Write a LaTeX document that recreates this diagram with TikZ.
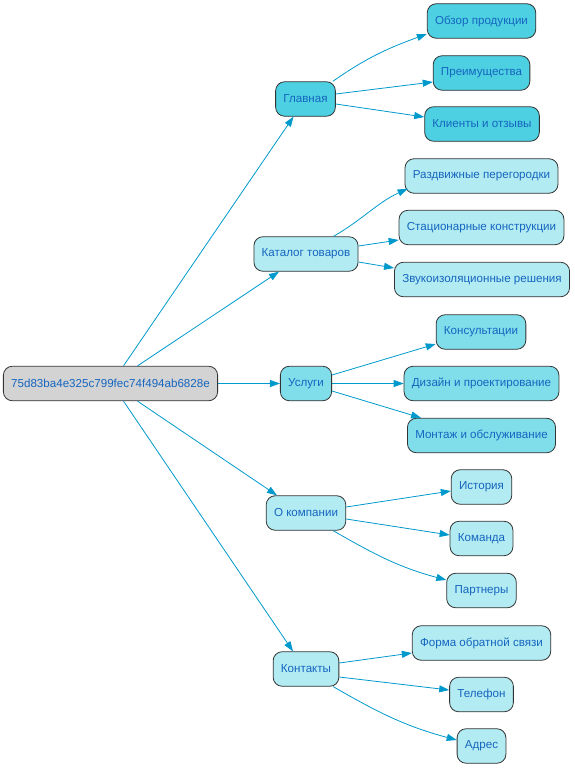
\documentclass[tikz,border=0pt]{standalone}
\usepackage{fontspec}
\setmainfont{Liberation Sans}
\usetikzlibrary{arrows.meta}
\definecolor{edgec}{HTML}{0099CC}
\definecolor{txtc}{HTML}{1565C0}
\definecolor{rootc}{HTML}{D3D3D3}
\definecolor{darkc}{HTML}{4DD0E1}
\definecolor{midc}{HTML}{80DEEA}
\definecolor{lightc}{HTML}{B2EBF2}
\tikzset{
  box/.style={draw=black!80, line width=0.8pt, rounded corners=9pt, minimum height=34.5pt,
    inner xsep=7.8pt, text=txtc, font=\fontsize{11.6}{13}\selectfont},
  rootbox/.style={box, fill=rootc},
  darkbox/.style={box, fill=darkc},
  midbox/.style={box, fill=midc},
  lightbox/.style={box, fill=lightc},
  edge/.style={draw=edgec, line width=0.8pt, -{Triangle[length=10pt,width=7pt]}},
}
\begin{document}
\begin{tikzpicture}[x=1pt,y=1pt]
\useasboundingbox (0,0) rectangle (574,-768);
\node[rootbox] (root) at (110.5,-383.5) {75d83ba4e325c799fec74f494ab6828e};
\node[darkbox] (glav) at (305.5,-99) {Главная};
\node[darkbox] (obzor) at (481.5,-21) {Обзор продукции};
\node[darkbox] (preim) at (481.5,-73) {Преимущества};
\node[darkbox] (klient) at (482,-124) {Клиенты и отзывы};
\node[lightbox] (kat) at (306,-254) {Каталог товаров};
\node[lightbox] (razd) at (481.5,-176) {Раздвижные перегородки};
\node[lightbox] (stac) at (481.5,-227.5) {Стационарные конструкции};
\node[lightbox] (zvuk) at (482,-279.5) {Звукоизоляционные решения};
\node[midbox] (usl) at (306,-383.5) {Услуги};
\node[midbox] (kons) at (481,-332) {Консультации};
\node[midbox] (diz) at (481.5,-383.5) {Дизайн и проектирование};
\node[midbox] (mont) at (481.5,-435.5) {Монтаж и обслуживание};
\node[lightbox] (okomp) at (306,-513) {О компании};
\node[lightbox] (ist) at (481.5,-487) {История};
\node[lightbox] (kom) at (481.5,-538.5) {Команда};
\node[lightbox] (part) at (481.5,-590.5) {Партнеры};
\node[lightbox] (kont) at (306,-669) {Контакты};
\node[lightbox] (forma) at (481.5,-643) {Форма обратной связи};
\node[lightbox] (tel) at (481.5,-694.5) {Телефон};
\node[lightbox] (adr) at (481.5,-746) {Адрес};
% root edges
\draw[edge] ([xshift=13pt]root.north) -- ([xshift=-12pt]glav.south);
\draw[edge] ([xshift=27pt]root.north) -- ([xshift=-27pt]kat.south);
\draw[edge] (root.east) -- (usl.west);
\draw[edge] ([xshift=27pt]root.south) -- ([xshift=-29pt]okomp.north);
\draw[edge] ([xshift=13pt]root.south) -- ([xshift=-13pt]kont.north);
% Главная
\draw[edge] ([xshift=-3pt]glav.north east) to[out=35,in=200] ([yshift=-13pt]obzor.west);
\draw[edge] ([yshift=5pt]glav.east) -- ([yshift=-9pt]preim.west);
\draw[edge] ([yshift=-5pt]glav.east) -- ([yshift=7pt]klient.west);
% Каталог
\draw[edge] ([xshift=-25pt]kat.north east) to[out=30,in=205] ([xshift=3pt,yshift=5pt]razd.south west);
\draw[edge] ([yshift=8pt]kat.east) -- ([yshift=-12.5pt]stac.west);
\draw[edge] ([yshift=-8pt]kat.east) -- ([yshift=11.5pt]zvuk.west);
% Услуги
\draw[edge] ([yshift=8.5pt]usl.east) -- ([yshift=-12pt]kons.west);
\draw[edge] (usl.east) -- (diz.west);
\draw[edge] ([yshift=-7.5pt]usl.east) -- ([xshift=14pt]mont.north west);
% О компании
\draw[edge] ([yshift=6pt]okomp.east) -- ([yshift=-4pt]ist.west);
\draw[edge] ([yshift=-6pt]okomp.east) -- ([yshift=3.5pt]kom.west);
\draw[edge] ([xshift=-13pt]okomp.south east) to[out=-30,in=165] ([yshift=10.5pt]part.west);
% Контакты
\draw[edge] ([yshift=6pt]kont.east) -- ([yshift=-10pt]forma.west);
\draw[edge] ([yshift=-8pt]kont.east) -- ([yshift=4.5pt]tel.west);
\draw[edge] ([xshift=-6pt]kont.south east) to[out=-30,in=165] ([yshift=6pt]adr.west);
\end{tikzpicture}
\end{document}
